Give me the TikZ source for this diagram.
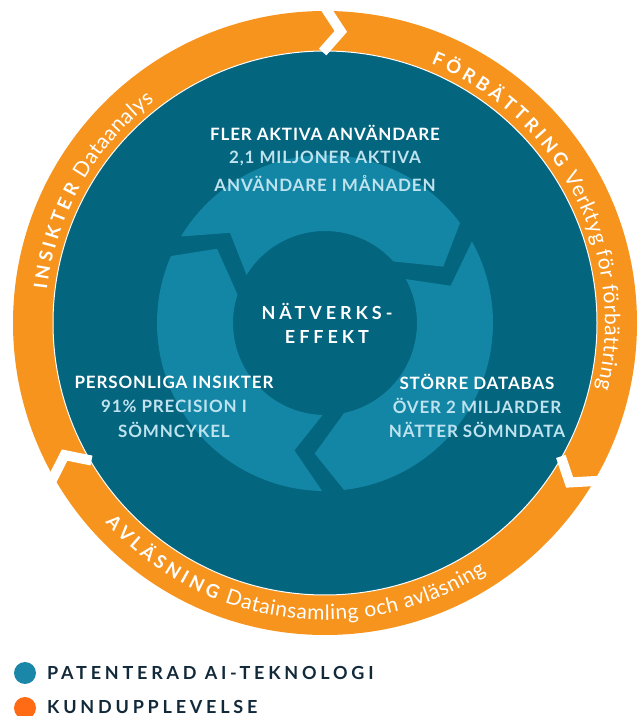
\documentclass[tikz,border=0pt]{standalone}
\usepackage{fontspec}
\setmainfont{Lato}
\newfontfamily\latob{Lato Bold}[LetterSpace=5]
\newfontfamily\latoB{Lato Bold}
\newfontfamily\latol{Lato}
\newfontfamily\latobs{Lato Bold}[LetterSpace=21]
\newfontfamily\latobw{Lato Bold}[LetterSpace=22]
\newcommand\ringbold{\latoB\fontsize{18.5}{20}\selectfont\kern3.8pt}
\newcommand\ringlight{\latol\fontsize{21}{22}\selectfont\kern0.5pt}
\usetikzlibrary{decorations.text}
\definecolor{orng}{HTML}{F7941D}
\definecolor{dteal}{HTML}{04657F}
\definecolor{lteal}{HTML}{1386A6}
\definecolor{pale}{HTML}{BEE3EF}
\definecolor{navy}{HTML}{12293A}
\definecolor{dotor}{HTML}{FF6B14}
\definecolor{dotbl}{HTML}{1A87A8}
\begin{document}
\begin{tikzpicture}[x=1pt,y=1pt,
  head/.style={font=\latob\fontsize{17}{18}\selectfont, text=white, inner sep=0pt},
  sub/.style={font=\latob\fontsize{17}{18}\selectfont, text=pale, inner sep=0pt},
  legtext/.style={font=\latobs\fontsize{18}{20}\selectfont, text=navy, anchor=west, inner sep=0pt},
  ringtext/.style={decorate, decoration={text along path, text align=left, text color=white}}]
\useasboundingbox (0,0) rectangle (638,716);
\coordinate (C) at (325,393);
% orange ring
\fill[orng, even odd rule] (C) circle[radius=312] (C) circle[radius=266];
% dark disk
\fill[dteal, draw=white, line width=1] (C) circle[radius=272];
% inner arrows
\begin{scope}[shift={(C)}]
\foreach \gt in {147, 267, 27} {
  \pgfmathsetmacro\gh{\gt-120}
  \fill[lteal] (\gt+2:168) arc[start angle=\gt+2, end angle=\gh+9.5, radius=168]
    -- (\gh-1.5:131) -- (\gh+15:92)
    arc[start angle=\gh+15, end angle=\gt+1.5, radius=92]
    -- (\gt-10.5:131) -- cycle;
}
% chevrons in the orange ring
\foreach \g in {90.5, 330.5, 210.5}
  \draw[white, line width=10, miter limit=10] (\g:320) -- (\g-3.6:292) -- (\g:271);
% ring texts
\path[ringtext, decoration={text={|\ringbold|INSIKTER |\ringlight|Dataanalys}}]
  (174:280) arc[start angle=174, end angle=95, radius=280];
\path[ringtext, decoration={text={|\ringbold|FÖRBÄTTRING |\ringlight|Verktyg för förbättring}}]
  (68.5:280) arc[start angle=68.5, end angle=-28, radius=280];
\path[ringtext, decoration={text={|\ringbold|AVLÄSNING |\ringlight|Datainsamling och avläsning}}]
  (221.5:297) arc[start angle=221.5, end angle=328, radius=297];
\end{scope}
% inner texts
\node[head] (t1) at (325,583) {FLER AKTIVA ANVÄNDARE};
\node[sub] (t2) at (325,558) {2,1 MILJONER AKTIVA};
\node[sub] (t3) at (325,533) {ANVÄNDARE I MÅNADEN};
\node[font=\latobw\fontsize{18}{20}\selectfont, text=white, inner sep=0pt] (n1) at (327,405) {NÄTVERKS-};
\node[font=\latobw\fontsize{18}{20}\selectfont, text=white, inner sep=0pt] (n2) at (327,379) {EFFEKT};
\node[head] (l1) at (174,334) {PERSONLIGA INSIKTER};
\node[sub] (l2) at (174,310) {91\% PRECISION I};
\node[sub] (l3) at (174,286) {SÖMNCYKEL};
\node[head] (r1) at (477,334) {STÖRRE DATABAS};
\node[sub] (r2) at (477,310) {ÖVER 2 MILJARDER};
\node[sub] (r3) at (477,286) {NÄTTER SÖMNDATA};
% legend
\fill[dotbl] (25,43) circle[radius=11];
\node[legtext] (lg1) at (47,43) {PATENTERAD AI-TEKNOLOGI};
\fill[dotor] (25,8) circle[radius=11];
\node[legtext] (lg2) at (47,9.5) {KUNDUPPLEVELSE};
\end{tikzpicture}
\end{document}
